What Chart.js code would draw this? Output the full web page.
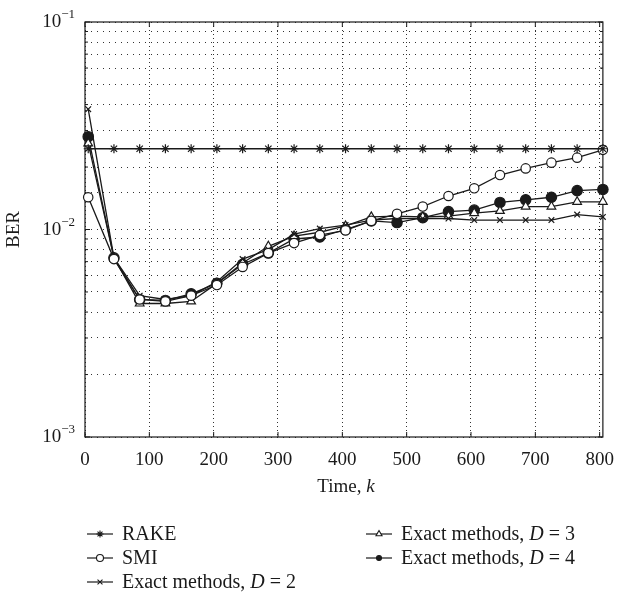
<!DOCTYPE html>
<html>
<head>
<meta charset="utf-8">
<script src="https://cdn.jsdelivr.net/npm/chart.js@4.4.1/dist/chart.umd.min.js"></script>
<style>
  body { margin: 0; background: #fff; }
  #wrap { width: 626px; height: 592px; }
</style>
</head>
<body>
<div id="wrap"><canvas id="chartjs-0" width="626" height="592"></canvas></div>
<script>
/* time index k of every plotted point */
var kValues = [5, 45, 85, 125, 165, 205, 245, 285, 325, 365, 405, 445, 485, 525, 565, 605, 645, 685, 725, 765, 805];

/* BER */
var rakeBer = [0.0245, 0.0245, 0.0245, 0.0245, 0.0245, 0.0245, 0.0245, 0.0245, 0.0245, 0.0245, 0.0245,
               0.0245, 0.0245, 0.0245, 0.0245, 0.0245, 0.0245, 0.0245, 0.0245, 0.0245, 0.0245];
var smiBer = [0.0143, 0.0072, 0.0046, 0.0045, 0.0048, 0.0054, 0.0066, 0.0077, 0.0086, 0.0094, 0.0099,
              0.0110, 0.0119, 0.0129, 0.0145, 0.0158, 0.0183, 0.0197, 0.0210, 0.0222, 0.0242];
var d2Ber = [0.0380, 0.0073, 0.0048, 0.0046, 0.0048, 0.0056, 0.0072, 0.0080, 0.0095, 0.0101, 0.0105,
             0.0111, 0.0113, 0.0113, 0.0113, 0.0111, 0.0111, 0.0111, 0.0111, 0.0118, 0.0115];
var d3Ber = [0.0260, 0.0073, 0.0044, 0.0044, 0.0045, 0.0055, 0.0069, 0.0083, 0.0093, 0.0097, 0.0104,
             0.0115, 0.0116, 0.0115, 0.0116, 0.0120, 0.0123, 0.0129, 0.0129, 0.0136, 0.0136];
var d4Ber = [0.0280, 0.0073, 0.0046, 0.00455, 0.0049, 0.0055, 0.0068, 0.0077, 0.0090, 0.0092, 0.0100,
             0.0110, 0.0108, 0.0114, 0.0122, 0.0124, 0.0135, 0.0139, 0.0143, 0.0154, 0.0156];

var seriesLabels = ["RAKE", "SMI", "Exact methods, D = 2", "Exact methods, D = 3", "Exact methods, D = 4"];

/* axis ticks */
var xTickValues = [0, 100, 200, 300, 400, 500, 600, 700, 800];
var yDecades = [0.1, 0.01, 0.001];
var yExponents = ["\u22121", "\u22122", "\u22123"];

var serif = '"Liberation Serif", "DejaVu Serif", serif';
var ink = "#1a1a1a";

function toPoints(vals) {
  var pts = [];
  for (var i = 0; i < kValues.length; i++) {
    pts.push({ x: kValues[i], y: vals[i] });
  }
  return pts;
}

function series(label, vals, style, radius, fill) {
  return {
    label: label,
    data: toPoints(vals),
    borderColor: ink,
    borderWidth: 1.3,
    pointStyle: style,
    pointRadius: radius,
    pointBorderColor: ink,
    pointBorderWidth: 1.2,
    pointBackgroundColor: fill,
    tension: 0,
    fill: false,
    clip: false
  };
}

/* italic D / k inside a text run */
function drawRich(ctx, parts, x, y, size) {
  for (var i = 0; i < parts.length; i++) {
    ctx.font = (parts[i].it ? "italic " : "") + size + "px " + serif;
    ctx.fillText(parts[i].t, x, y);
    x += ctx.measureText(parts[i].t).width;
  }
}

function labelParts(s) {
  var m = s.match(/^(.*?)(D)( = .*)$/);
  if (!m) return [{ t: s }];
  return [{ t: m[1] }, { t: m[2], it: true }, { t: m[3] }];
}

function marker(ctx, ds, x, y, r) {
  ctx.fillStyle = ds.pointBackgroundColor;
  ctx.strokeStyle = ink;
  ctx.lineWidth = 1.1;
  if (Chart.helpers && Chart.helpers.drawPoint) {
    Chart.helpers.drawPoint(ctx, { pointStyle: ds.pointStyle, radius: r, rotation: 0, borderWidth: 1.1 }, x, y);
  } else {
    ctx.beginPath();
    ctx.arc(x, y, r, 0, Math.PI * 2);
    ctx.fill();
    ctx.stroke();
  }
}

var decor = {
  id: "decor",
  beforeDatasetsDraw: function (chart) {
    var ctx = chart.ctx, a = chart.chartArea, sx = chart.scales.x, sy = chart.scales.y;
    ctx.save();
    ctx.setLineDash([]);
    ctx.strokeStyle = ink;
    ctx.lineWidth = 1.2;
    ctx.strokeRect(a.left, a.top, a.right - a.left, a.bottom - a.top);
    ctx.lineWidth = 1;
    ctx.beginPath();
    xTickValues.forEach(function (v) {
      var px = sx.getPixelForValue(v);
      ctx.moveTo(px, a.bottom); ctx.lineTo(px, a.bottom - 5);
      ctx.moveTo(px, a.top); ctx.lineTo(px, a.top + 5);
    });
    sy.ticks.forEach(function (t) {
      var py = sy.getPixelForValue(t.value);
      var len = yDecades.indexOf(t.value) >= 0 ? 5 : 3;
      ctx.moveTo(a.left, py); ctx.lineTo(a.left + len, py);
      ctx.moveTo(a.right, py); ctx.lineTo(a.right - len, py);
    });
    ctx.stroke();
    ctx.restore();
  },
  afterDraw: function (chart) {
    var ctx = chart.ctx, a = chart.chartArea, sy = chart.scales.y;
    ctx.save();
    ctx.fillStyle = ink;
    ctx.textBaseline = "alphabetic";
    ctx.textAlign = "left";

    /* y labels 10^e */
    for (var i = 0; i < yDecades.length; i++) {
      var py = sy.getPixelForValue(yDecades[i]);
      ctx.font = "13px " + serif;
      var w2 = ctx.measureText(yExponents[i]).width;
      ctx.font = "19px " + serif;
      var w1 = ctx.measureText("10").width;
      var right = 75;
      ctx.fillText("10", right - w2 - w1, py + 5);
      ctx.font = "13px " + serif;
      ctx.fillText(yExponents[i], right - w2, py - 4);
    }

    /* y title */
    ctx.save();
    ctx.translate(19, (a.top + a.bottom) / 2);
    ctx.rotate(-Math.PI / 2);
    ctx.textAlign = "center";
    ctx.font = "19px " + serif;
    ctx.fillText("BER", 0, 0);
    ctx.restore();

    /* x title */
    var parts = [{ t: "Time, " }, { t: "k", it: true }];
    ctx.font = "19px " + serif;
    var tw = ctx.measureText("Time, ").width;
    ctx.font = "italic 19px " + serif;
    tw += ctx.measureText("k").width;
    drawRich(ctx, parts, (a.left + a.right) / 2 + 2 - tw / 2, 492, 19);

    /* legend, two columns */
    var cols = [87, 366];
    var rows = [534, 558, 582];
    var slots = [[0, 0], [0, 1], [0, 2], [1, 0], [1, 1]];
    chart.data.datasets.forEach(function (ds, idx) {
      var lx = cols[slots[idx][0]], ly = rows[slots[idx][1]];
      ctx.strokeStyle = ink;
      ctx.lineWidth = 1.2;
      ctx.setLineDash([]);
      ctx.beginPath();
      ctx.moveTo(lx, ly); ctx.lineTo(lx + 26, ly);
      ctx.stroke();
      marker(ctx, ds, lx + 13, ly, ds.pointStyle === "circle" && ds.pointBackgroundColor === ink ? 2.5 : 3.5);
      ctx.fillStyle = ink;
      drawRich(ctx, labelParts(ds.label), lx + 35, ly + 6, 20);
    });
    ctx.restore();
  }
};

var ctx = document.getElementById("chartjs-0");

var myChart = new Chart(ctx, {
  type: "line",
  data: {
    datasets: [
      series(seriesLabels[0], rakeBer, "star", 4.5, ink),
      series(seriesLabels[1], smiBer, "circle", 4.7, "#ffffff"),
      series(seriesLabels[2], d2Ber, "crossRot", 4, ink),
      series(seriesLabels[3], d3Ber, "triangle", 5, "#ffffff"),
      series(seriesLabels[4], d4Ber, "circle", 5.2, ink)
    ]
  },
  options: {
    responsive: false,
    animation: false,
    layout: { padding: { top: 22, right: 14, left: 0, bottom: 0 } },
    plugins: {
      legend: { display: false },
      tooltip: { enabled: false }
    },
    scales: {
      x: {
        type: "linear",
        min: 0,
        max: 805,
        afterBuildTicks: function (s) {
          s.ticks = xTickValues.map(function (v) { return { value: v }; });
        },
        afterFit: function (s) { s.height = 155; },
        grid: { color: "#333", lineWidth: 1, drawTicks: false },
        border: { display: false, dash: [1, 3] },
        ticks: {
          color: ink,
          font: { family: serif, size: 19 },
          padding: 12,
          maxRotation: 0,
          autoSkip: false
        }
      },
      y: {
        type: "logarithmic",
        min: 0.001,
        max: 0.1,
        afterFit: function (s) { s.width = 85; },
        grid: { color: "#333", lineWidth: 1, drawTicks: false },
        border: { display: false, dash: [1, 5] },
        ticks: { display: false }
      }
    }
  },
  plugins: [decor]
});
</script>
</body>
</html>
